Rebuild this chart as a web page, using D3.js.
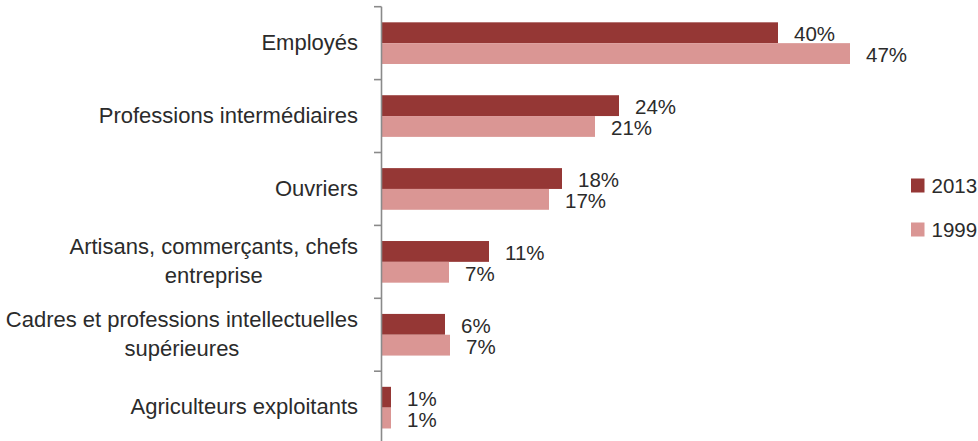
<!DOCTYPE html>
<html>
<head>
<meta charset="utf-8">
<script src="https://cdn.jsdelivr.net/npm/d3@7/dist/d3.min.js"></script>
<style>
  html, body { margin: 0; padding: 0; background: #fff; }
  svg { display: block; }
  text { font-family: "Liberation Sans", Arial, sans-serif; fill: #2b2b2b; }
</style>
</head>
<body>
<svg id="chart" width="978" height="441"></svg>
<script>
// Socio-professional categories, share of each group (percent)
const categories = [
  "Employés",
  "Professions intermédiaires",
  "Ouvriers",
  "Artisans, commerçants, chefs entreprise",
  "Cadres et professions intellectuelles supérieures",
  "Agriculteurs exploitants"
];
const seriesNames = ["2013", "1999"];
const values2013 = [39.6, 23.7, 18.0, 10.7, 6.3, 0.9];
const values1999 = [46.8, 21.3, 16.7, 6.7, 6.8, 0.9];
const seriesColors = ["#953735", "#DA9694"];

const svg = d3.select("#chart");
const W = 978, H = 441;

const axisX = 381.5;
const x = d3.scaleLinear().domain([0, 50]).range([axisX + 0.5, axisX + 500.5]);

const y = d3.scaleBand().domain(categories).range([6.7, 6.7 + 6 * 72.9]).padding(0);
const ySub = d3.scaleBand().domain(seriesNames).range([0, y.bandwidth()]).paddingInner(0).paddingOuter(0.75);

const seriesValues = { "2013": values2013, "1999": values1999 };
const pct = d3.format(".0f");

// Bars and their value labels
seriesNames.forEach((s, si) => {
  const rows = categories.map((c, i) => ({ cat: c, v: seriesValues[s][i] }));
  const g = svg.append("g").attr("class", "series-" + s);
  g.selectAll("rect").data(rows).join("rect")
    .attr("x", x(0))
    .attr("y", d => y(d.cat) + ySub(s))
    .attr("width", d => x(d.v) - x(0))
    .attr("height", ySub.bandwidth())
    .attr("fill", seriesColors[si]);
  g.selectAll("text").data(rows).join("text")
    .attr("x", d => x(d.v) + 16)
    .attr("y", d => y(d.cat) + ySub(s) + ySub.bandwidth() / 2 + 8.5)
    .attr("font-size", "20.5px")
    .text(d => pct(d.v) + "%");
});

// Category axis: vertical line with ticks at band boundaries
const axis = svg.append("g").attr("class", "y-axis");
axis.append("line")
  .attr("x1", axisX).attr("x2", axisX)
  .attr("y1", y.range()[0]).attr("y2", H)
  .attr("stroke", "#8a8a8a").attr("stroke-width", 1.6);
axis.selectAll("line.tick").data(categories).join("line")
  .attr("class", "tick")
  .attr("x1", axisX - 7.5).attr("x2", axisX)
  .attr("y1", d => y(d)).attr("y2", d => y(d))
  .attr("stroke", "#8a8a8a").attr("stroke-width", 1.6);

// Category labels, wrapped when wider than the label column;
// wrapped lines are centred on each other, the block is right-aligned
const lineH = 28.3;
const maxW = 365;
const labelRight = axisX - 23.5;
axis.selectAll("text.cat").data(categories).join("text")
  .attr("class", "cat")
  .attr("font-size", "22px")
  .attr("text-anchor", "middle")
  .each(function(d) {
    const t = d3.select(this);
    const words = d.split(" ");
    const lines = [];
    let cur = [];
    const probe = t.append("tspan");
    const measure = s => { probe.text(s); return probe.node().getComputedTextLength(); };
    words.forEach(w => {
      const trial = cur.concat([w]).join(" ");
      if (cur.length && measure(trial) > maxW) {
        lines.push(cur.join(" "));
        cur = [w];
      } else {
        cur.push(w);
      }
    });
    lines.push(cur.join(" "));
    const blockW = d3.max(lines, measure);
    probe.remove();
    const cx = labelRight - blockW / 2;
    const cy = y(d) + y.bandwidth() / 2 + 6.7;
    lines.forEach((ln, i) => {
      t.append("tspan")
        .attr("x", cx)
        .attr("y", cy + (i - (lines.length - 1) / 2) * lineH)
        .text(ln);
    });
  });

// Legend
const legend = svg.append("g").attr("class", "legend");
const legendY = [185.5, 229.5];
seriesNames.forEach((s, i) => {
  legend.append("rect")
    .attr("x", 911).attr("y", legendY[i] - 7)
    .attr("width", 13.5).attr("height", 14)
    .attr("fill", seriesColors[i]);
  legend.append("text")
    .attr("x", 931.5).attr("y", legendY[i] + 7.3)
    .attr("font-size", "20.5px")
    .text(s);
});
</script>
</body>
</html>
